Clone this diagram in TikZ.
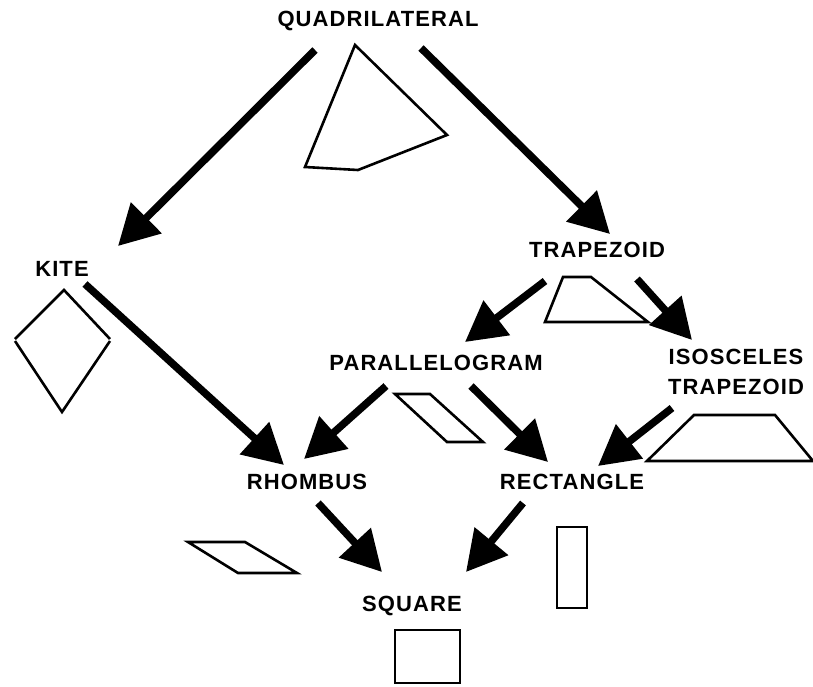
\documentclass[tikz,border=0pt]{standalone}
\usepackage{fontspec}
\setmainfont{Liberation Sans}
\usetikzlibrary{
  arrows.meta
}
\tikzset{
%
  % For the names of the classes.
  title/.style={
    font=\fontsize{22}{30}\selectfont\bfseries\addfontfeature{LetterSpace=5},
    inner sep=0pt,
    align=center},
%
  % For the relation 'A is a special B'.
  isa/.style={
    line width=7.5pt,
    -{Triangle[length=40pt,
               width=42pt]}},
%
  % For the small example figures.
  figure/.style={
    line width=2.6pt,
    line join=miter}
}

\begin{document}
\begin{tikzpicture}[x=1pt,y=-1pt]
  \useasboundingbox (0,0) rectangle (813,686);

  \node[title] (Q) at (378,21) {QUADRILATERAL};
  \node[title] (K) at (62,269) {KITE};
  \node[title] (T) at (597,250) {TRAPEZOID};
  \node[title] (P) at (436,363) {PARALLELOGRAM};
  \node[title] (I) at (736,372) {ISOSCELES\\TRAPEZOID};
  \node[title] (R) at (307,482) {RHOMBUS};
  \node[title] (C) at (572,482) {RECTANGLE};
  \node[title] (S) at (412,606) {SQUARE};

  % ends of the arrows
  \coordinate (Q-K) at (315,50);   \coordinate (K-Q) at (118,246);
  \coordinate (Q-T) at (421,48);   \coordinate (T-Q) at (610,234);
  \coordinate (K-R) at (85,284);   \coordinate (R-K) at (284,465);
  \coordinate (T-P) at (545,281);  \coordinate (P-T) at (465,342);
  \coordinate (T-I) at (637,279);  \coordinate (I-T) at (692,340);
  \coordinate (P-R) at (386,386);  \coordinate (R-P) at (304,459);
  \coordinate (P-C) at (471,386);  \coordinate (C-P) at (548,462);
  \coordinate (I-C) at (672,408);  \coordinate (C-I) at (598,466);
  \coordinate (R-S) at (318,503);  \coordinate (S-R) at (382,572);
  \coordinate (C-S) at (523,503);  \coordinate (S-C) at (466,572);

  \draw[isa] (Q-K) -- (K-Q);
  \draw[isa] (Q-T) -- (T-Q);
  \draw[isa] (K-R) -- (R-K);
  \draw[isa] (T-P) -- (P-T);
  \draw[isa] (T-I) -- (I-T);
  \draw[isa] (P-R) -- (R-P);
  \draw[isa] (P-C) -- (C-P);
  \draw[isa] (I-C) -- (C-I);
  \draw[isa] (R-S) -- (S-R);
  \draw[isa] (C-S) -- (S-C);

  % the example figures
  \draw[figure] (355,45) -- (447,135) -- (358,170) -- (305,167) -- cycle;
  \draw[figure] (15,339) -- (64,290) -- (110,339);
  \draw[figure] (15,341) -- (62,412) -- (110,341);
  \draw[figure] (563,277) -- (591,277) -- (648,322) -- (545,322) -- cycle;
  \draw[figure] (395,394) -- (430,394) -- (483,442) -- (447,442) -- cycle;
  \draw[figure] (694,415) -- (775,415) -- (813,461) -- (647,461) -- cycle;
  \draw[figure] (188,542) -- (245,542) -- (297,573) -- (238,573) -- cycle;
  \draw[figure] (557,527) rectangle (587,608);
  \draw[figure] (395,630) rectangle (460,683);
\end{tikzpicture}
\end{document}
